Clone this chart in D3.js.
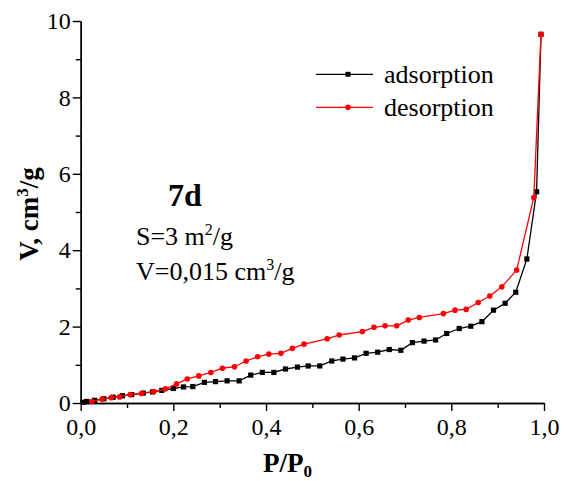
<!DOCTYPE html>
<html>
<head>
<meta charset="utf-8">
<script src="https://cdn.jsdelivr.net/npm/d3@7"></script>
<style>
  body { margin: 0; background: #fff; }
  text { font-family: "Liberation Serif", "Times New Roman", serif; fill: #000; }
  .axis path, .axis line { stroke: #000; stroke-width: 1.4; }
</style>
</head>
<body>
<svg width="564" height="481"></svg>
<script>
var svg = d3.select("svg");

// adsorption branch
var adsX = [0.005, 0.013, 0.03, 0.05, 0.07, 0.09, 0.11, 0.135, 0.155, 0.175, 0.2, 0.222, 0.242, 0.267, 0.291,
  0.316, 0.342, 0.367, 0.392, 0.417, 0.442, 0.468, 0.491, 0.516, 0.542, 0.566, 0.591, 0.616, 0.641, 0.666,
  0.691, 0.716, 0.741, 0.766, 0.79, 0.817, 0.842, 0.866, 0.891, 0.916, 0.939, 0.963, 0.984, 0.9935];
var adsY = [0.02, 0.04, 0.07, 0.11, 0.15, 0.19, 0.22, 0.26, 0.29, 0.33, 0.38, 0.42, 0.43, 0.54, 0.56,
  0.58, 0.58, 0.73, 0.80, 0.80, 0.89, 0.94, 0.97, 0.97, 1.10, 1.15, 1.18, 1.30, 1.33, 1.40,
  1.38, 1.58, 1.62, 1.65, 1.82, 1.95, 2.01, 2.13, 2.43, 2.61, 2.90, 3.77, 5.53, 9.65];

// desorption branch
var desX = [0.024, 0.046, 0.066, 0.084, 0.107, 0.131, 0.158, 0.183, 0.207, 0.23, 0.255, 0.281, 0.306, 0.332,
  0.357, 0.382, 0.406, 0.432, 0.457, 0.482, 0.532, 0.558, 0.608, 0.633, 0.657, 0.682, 0.707, 0.731,
  0.783, 0.808, 0.832, 0.858, 0.883, 0.909, 0.941, 0.978, 0.9935];
var desY = [0.04, 0.10, 0.14, 0.16, 0.22, 0.25, 0.30, 0.37, 0.50, 0.63, 0.71, 0.80, 0.91, 0.95,
  1.10, 1.21, 1.28, 1.30, 1.43, 1.54, 1.68, 1.78, 1.87, 1.98, 2.02, 2.02, 2.17, 2.24,
  2.34, 2.43, 2.45, 2.63, 2.80, 3.04, 3.48, 5.38, 9.65];

var xTicks = [0, 0.2, 0.4, 0.6, 0.8, 1.0];
var yTicks = [0, 2, 4, 6, 8, 10];

var x = d3.scaleLinear().domain([0, 1]).range([80.7, 544]);
var y = d3.scaleLinear().domain([0, 10]).range([403, 21]);

var fmt = d => d3.format(".1f")(d).replace(".", ",");
var serif = "'Liberation Serif', 'Times New Roman', serif";

// minor ticks
svg.append("g")
    .attr("class", "axis")
    .attr("transform", "translate(0," + y(0) + ")")
    .call(d3.axisBottom(x).tickValues(d3.range(0.1, 1, 0.2)).tickSize(5).tickSizeOuter(0).tickFormat(""));
svg.append("g")
    .attr("class", "axis")
    .attr("transform", "translate(" + x(0) + ",0)")
    .call(d3.axisLeft(y).tickValues(d3.range(1, 10, 2)).tickSize(5).tickSizeOuter(0).tickFormat(""));

// major ticks
var xAxis = svg.append("g")
    .attr("class", "axis")
    .attr("transform", "translate(0," + y(0) + ")")
    .call(d3.axisBottom(x).tickValues(xTicks).tickSize(8).tickSizeOuter(0).tickPadding(6).tickFormat(fmt));
xAxis.attr("font-family", serif).attr("font-size", 24);
xAxis.selectAll("text").attr("dy", "0.75em").style("font-family", serif).style("font-size", "24px");

var yAxis = svg.append("g")
    .attr("class", "axis")
    .attr("transform", "translate(" + x(0) + ",0)")
    .call(d3.axisLeft(y).tickValues(yTicks).tickSize(8).tickSizeOuter(0).tickPadding(2).tickFormat(d3.format("d")));
yAxis.attr("font-family", serif).attr("font-size", 24);
yAxis.selectAll("text").style("font-family", serif).style("font-size", "24px");

var line = d3.line().x(d => x(d[0])).y(d => y(d[1]));
var ads = d3.zip(adsX, adsY);
var des = d3.zip(desX, desY);

svg.append("path").datum(ads)
    .attr("fill", "none").attr("stroke", "#000").attr("stroke-width", 1.3).attr("d", line);
svg.selectAll(".sq").data(ads).enter().append("rect")
    .attr("x", d => x(d[0]) - 2.6).attr("y", d => y(d[1]) - 2.6)
    .attr("width", 5.2).attr("height", 5.2).attr("fill", "#000");

svg.append("path").datum(des)
    .attr("fill", "none").attr("stroke", "#f00").attr("stroke-width", 1.3).attr("d", line);
svg.selectAll(".ci").data(des).enter().append("circle")
    .attr("cx", d => x(d[0])).attr("cy", d => y(d[1])).attr("r", 2.8).attr("fill", "#f00");

// legend
var legend = [
  { name: "adsorption", color: "#000", y: 74.3, shape: "square" },
  { name: "desorption", color: "#f00", y: 107.3, shape: "circle" }
];
legend.forEach(function(l) {
  svg.append("line").attr("x1", 316).attr("x2", 373).attr("y1", l.y).attr("y2", l.y)
      .attr("stroke", l.color).attr("stroke-width", 1.3);
  if (l.shape == "square")
    svg.append("rect").attr("x", 345.5).attr("y", l.y - 2.5).attr("width", 5).attr("height", 5).attr("fill", l.color);
  else
    svg.append("circle").attr("cx", 348).attr("cy", l.y).attr("r", 2.8).attr("fill", l.color);
  svg.append("text").attr("x", 384).attr("y", l.y + 9).style("font-size", "26px").text(l.name);
});

// annotations
svg.append("text").attr("x", 168).attr("y", 205.5)
    .style("font-size", "32px").style("font-weight", "bold").text("7d");

var s = svg.append("text").attr("x", 136).attr("y", 245).style("font-size", "26px");
s.append("tspan").text("S=3 m");
s.append("tspan").attr("dy", -10).style("font-size", "16px").text("2");
s.append("tspan").attr("dy", 10).text("/g");

var v = svg.append("text").attr("x", 136).attr("y", 280).style("font-size", "26px");
v.append("tspan").text("V=0,015 cm");
v.append("tspan").attr("dy", -10).style("font-size", "16px").text("3");
v.append("tspan").attr("dy", 10).text("/g");

// axis titles
var xl = svg.append("text").attr("x", 263).attr("y", 471.5)
    .style("font-size", "27px").style("font-weight", "bold");
xl.append("tspan").text("P/P");
xl.append("tspan").attr("dy", 5).style("font-size", "17px").text("0");

var yl = svg.append("text")
    .attr("transform", "translate(38,214) rotate(-90)")
    .attr("text-anchor", "middle")
    .style("font-size", "27px").style("font-weight", "bold");
yl.append("tspan").text("V, cm");
yl.append("tspan").attr("dy", -10).style("font-size", "17px").text("3");
yl.append("tspan").attr("dy", 10).text("/g");
</script>
</body>
</html>
